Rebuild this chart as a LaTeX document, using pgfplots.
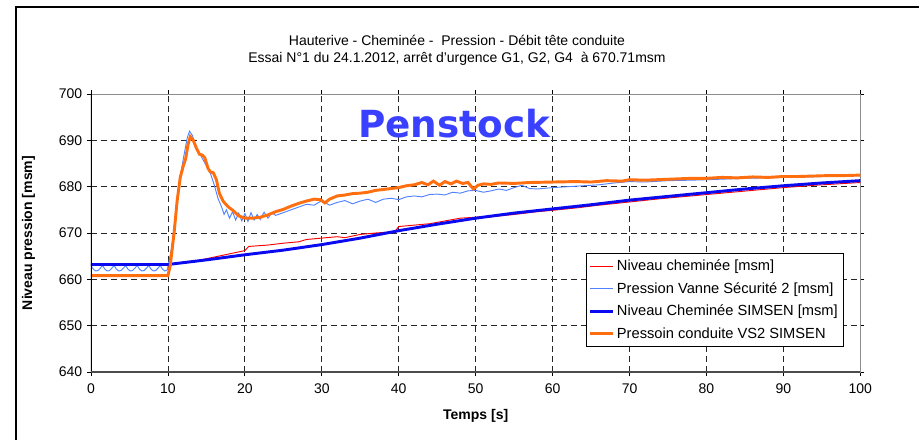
\documentclass[border=0pt]{standalone}
\usepackage{pgfplots}
\pgfplotsset{compat=1.18}
\usepackage{fontspec}
\setmainfont{Liberation Sans}
\newfontfamily\penfont{DejaVu Sans}
\definecolor{cred}{RGB}{255,0,0}
\definecolor{clblue}{RGB}{80,130,255}
\definecolor{cdblue}{RGB}{10,10,240}
\definecolor{corange}{RGB}{255,110,15}
\definecolor{cpen}{RGB}{58,64,255}
\begin{document}
\begin{tikzpicture}
\useasboundingbox (-68.25pt,-50.25pt) rectangle (621pt,279pt);
\draw[line width=0.9pt] (-56.25pt,-80pt) -- (-56.25pt,273.75pt) -- (700pt,273.75pt);
\node[font=\fontsize{10.5}{12.75}\selectfont, align=center] at (274.5pt,241pt) {Hauterive - Cheminée -\ \ Pression - Débit tête conduite\\ Essai N°1 du 24.1.2012, arrêt d'urgence G1, G2, G4\ \ à 670.71msm};
\begin{axis}[
  scale only axis, width=577pt, height=208.5pt,
  xmin=0, xmax=100, ymin=640, ymax=700,
  xtick={0,10,...,100}, ytick={640,650,...,700},
  grid=major,
  grid style={black!85, line width=0.6pt, dash pattern=on 4.5pt off 3pt},
  axis line style={black!45, line width=0.6pt},
  tick align=outside, major tick length=3pt,
  tick style={black, line width=0.6pt},
  tick label style={font=\fontsize{10.5}{12}\selectfont},
  /pgf/number format/assume math mode=true,
  xticklabel style={yshift=-2.5pt},
  xlabel={\bfseries Temps [s]},
  ylabel={\bfseries Niveau pression [msm]},
  label style={font=\fontsize{10.5}{12}\selectfont},
  xlabel style={yshift=-4.5pt},
  ylabel style={yshift=11pt},
  legend style={at={(0.978,0.09)}, anchor=south east, draw=black,
    font=\fontsize{11}{12.5}\selectfont, row sep=3.3pt, inner xsep=2pt, inner ysep=3pt,
    cells={anchor=west}},
  clip=true,
]
\addplot[cred, line width=0.7pt] coordinates {
(0,663.3) (10,663.3) (12,663.6) (14,664.1) (16,664.8) (18,665.5) (20,666.2) (20.5,667.1) (23,667.4) (25,667.8) (27,668.1) (28,668.6) (30,668.9) (32,669.2) (33,669.0) (35,669.7) (37,670.0) (39.5,670.3) (40,671.4) (42,671.7) (44,672.0) (46,672.6) (48,673.2) (50,673.4) (52,673.5) (55,674.0) (58,674.6) (60,674.9) (63,675.4) (66,676.0) (70,676.7) (74,677.4) (78,678.0) (82,678.6) (86,679.2) (90,679.8) (94,680.3) (97,680.6) (100,680.9)
};
\addlegendentry{Niveau cheminée [msm]}
\addplot[clblue, line width=0.7pt] coordinates {
(0,663.0) (0.3,662.2) (0.6,661.8) (0.9,661.9) (1.2,662.4) (1.5,663.0) (1.8,662.2) (2.1,661.8) (2.4,661.9) (2.7,662.4) (3.0,663.0) (3.3,662.2) (3.6,661.8) (3.9,661.9) (4.2,662.4) (4.5,663.0) (4.8,662.2) (5.1,661.8) (5.4,661.9) (5.7,662.4) (6.0,663.0) (6.3,662.2) (6.6,661.8) (6.9,661.9) (7.2,662.4) (7.5,663.0) (7.8,662.2) (8.1,661.8) (8.4,661.9) (8.7,662.4) (9.0,663.0) (9.3,662.2) (9.6,661.8) (9.9,662.0)
(10.1,663.5) (10.5,667) (11,674) (11.5,681) (12,686) (12.5,690.5) (12.8,692) (13.2,691) (13.6,688.5) (14,687.5) (14.5,686) (15,684.5) (15.5,683) (16,680.5) (16.5,677.5) (17,675.5) (17.3,674) (17.6,675) (18,673.2) (18.4,674.6) (18.8,672.8) (19.2,674.3) (19.6,672.6) (20,674.2) (20.4,672.5) (20.8,674.4) (21.2,672.8) (21.6,674.0) (22,672.9) (22.5,674.5) (23,673.2) (23.5,674.4) (24,673.8) (25,674.4) (26,675.0) (27,675.6) (28,676.2) (29,676.0) (30,677.0) (31,676.0) (32,676.6) (33,677.0) (34,676.3) (35,676.9) (36,677.3) (37,676.6) (38,677.3) (39,677.5) (40,677.2) (41,677.8) (42,678.0) (43,677.8) (44,678.3) (45,678.4) (46,678.2) (47,678.8) (48,678.6) (49,679.1) (50,679.2) (51,678.8) (52,679.1) (53,679.5) (54,679.2) (55,679.8) (56,680.3) (57,679.6) (58,679.5) (60,679.8) (62,680.0) (64,680.2) (66,680.4) (68,680.8) (70,681.1) (72,681.0) (75,681.3) (78,681.4) (80,681.5) (85,681.8) (90,682.0) (95,682.2) (100,682.4)
};
\addlegendentry{Pression Vanne Sécurité 2 [msm]}
\addplot[cdblue, line width=2.2pt] coordinates {
(0,663.2) (10,663.2) (12,663.6) (15,664.2) (20,665.3) (25,666.3) (30,667.5) (35,668.9) (40,670.5) (45,671.9) (50,673.2) (55,674.3) (60,675.2) (65,676.1) (70,677.1) (75,677.9) (80,678.7) (85,679.5) (90,680.2) (95,680.8) (100,681.3)
};
\addlegendentry{Niveau Cheminée SIMSEN [msm]}
\addplot[corange, line width=2.2pt] coordinates {
(0,660.8) (10,660.8) (10.3,663) (10.8,670) (11.2,677) (11.6,682) (12,684.5) (12.3,686) (12.6,689) (12.9,690.8) (13.3,690) (13.7,688.3) (14.1,687) (14.5,686.8) (14.8,686.2) (15.2,684) (15.5,683.2) (15.9,683) (16.3,681.5) (16.7,678.5) (17.2,676.8) (17.8,675.7) (18.5,674.8) (19.2,673.7) (20,673.2) (21,673.2) (22,673.4) (23,673.9) (24,674.6) (25,675.1) (26,675.8) (27,676.4) (28,676.9) (29,677.3) (29.8,677.2) (30.4,676.5) (31,677.3) (32,678.0) (33,678.2) (34,678.5) (35,678.6) (36,678.8) (37,679.2) (38,679.4) (39,679.6) (40,679.8) (41,680.2) (42,680.4) (43,680.9) (43.8,680.4) (44.5,681.2) (45.3,680.3) (46,681.1) (46.8,680.6) (47.5,681.2) (48.3,680.7) (49,680.9) (49.7,679.5) (50.3,680.3) (51,680.6) (52,680.5) (53,680.8) (55,680.7) (57,680.9) (60,681.0) (63,681.1) (65,681.0) (67,681.3) (69,681.2) (70,681.5) (72,681.4) (75,681.6) (78,681.8) (80,681.8) (82,682.0) (84,681.9) (86,682.1) (88,682.0) (90,682.2) (92,682.2) (94,682.3) (96,682.4) (98,682.4) (100,682.5)
};
\addlegendentry{Pressoin conduite VS2 SIMSEN}
\node[anchor=base, text=cpen, font={\penfont\bfseries\fontsize{28}{30}\selectfont}] at (axis cs:47.2,690.7) {Penstock};
\draw[black, line width=0.8pt] (rel axis cs:0,0) -- (rel axis cs:0,1);
\draw[black!70, line width=1.3pt] (rel axis cs:0,0) -- (rel axis cs:1,0);
\end{axis}
\end{tikzpicture}
\end{document}
